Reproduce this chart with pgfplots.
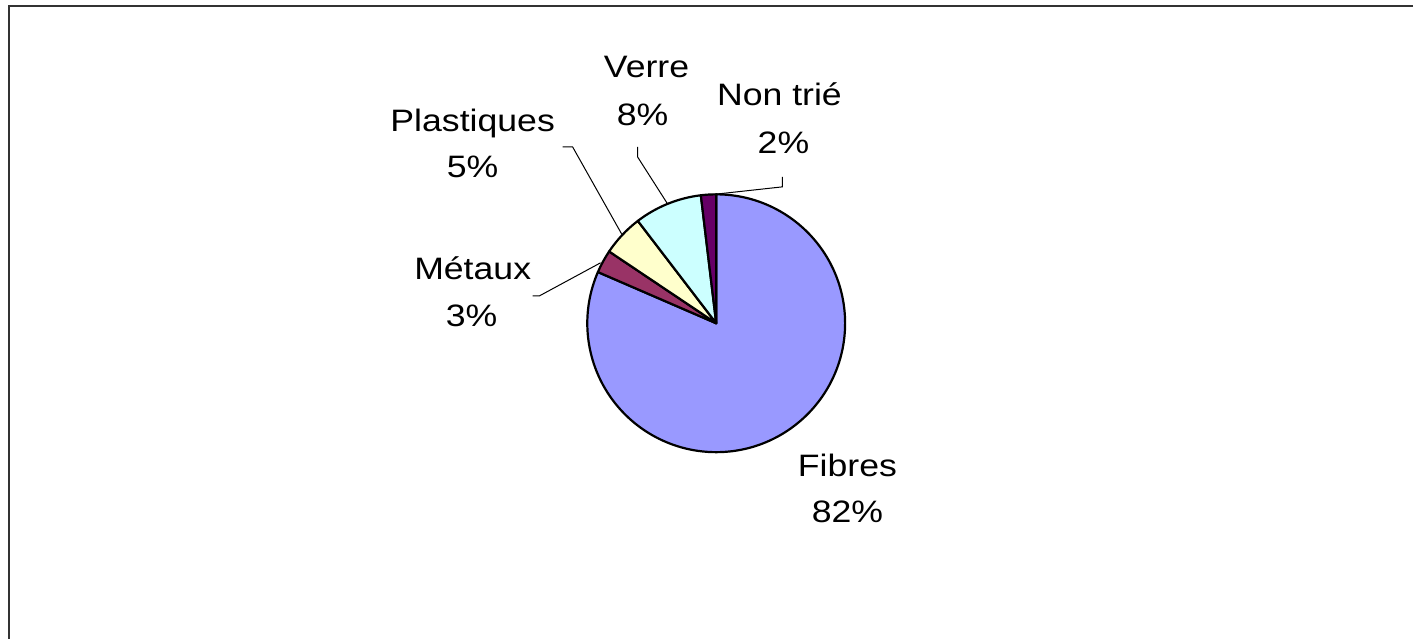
\documentclass[border=0pt]{standalone}
\usepackage{fontspec}
\setmainfont{Liberation Sans}[FakeStretch=1.15]
\usepackage{pgfplots}
\usepackage{pgfplotstable}
\pgfplotsset{compat=1.18}
\pgfplotstableread{
cat value
Fibres 81.5
Metaux 2.9
Plastiques 5.2
Verre 8.5
Nontrie 1.9
}\piedata
\definecolor{cFib}{HTML}{9999FF}
\definecolor{cMet}{HTML}{993366}
\definecolor{cPla}{HTML}{FFFFCC}
\definecolor{cVer}{HTML}{CCFFFF}
\definecolor{cNon}{HTML}{660066}
\definecolor{frame}{HTML}{333333}
\xdef\acc{90}
\newcommand\getang[2]{%
  \pgfplotstablegetelem{#1}{value}\of\piedata
  \pgfmathsetmacro\tmp{\acc-3.6*\pgfplotsretval}%
  \expandafter\xdef\csname s#2\endcsname{\acc}%
  \expandafter\xdef\csname e#2\endcsname{\tmp}%
  \xdef\acc{\tmp}}
\newcommand\lbl{\fontsize{15.5}{18}\selectfont}
\begin{document}
\begin{tikzpicture}
\getang{0}{A}\getang{1}{B}\getang{2}{C}\getang{3}{D}\getang{4}{E}
\begin{axis}[x=0.5pt,y=0.5pt,xmin=0,xmax=1414,ymin=0,ymax=639,
  hide axis, clip=false]
\path (axis cs:0,0) rectangle (axis cs:1414,639);
\draw[frame, line width=1pt] (axis cs:1414,633) -- (axis cs:9,633) -- (axis cs:9,0);
% slices
\filldraw[fill=cFib, draw=black, line width=1.1pt, line join=round] (axis cs:716.7,315.5) -- ++(\sA:64.5pt) arc[start angle=\sA, end angle=\eA, radius=64.5pt] -- cycle;
\filldraw[fill=cMet, draw=black, line width=1.1pt, line join=round] (axis cs:716.7,315.5) -- ++(\sB:64.5pt) arc[start angle=\sB, end angle=\eB, radius=64.5pt] -- cycle;
\filldraw[fill=cPla, draw=black, line width=1.1pt, line join=round] (axis cs:716.7,315.5) -- ++(\sC:64.5pt) arc[start angle=\sC, end angle=\eC, radius=64.5pt] -- cycle;
\filldraw[fill=cVer, draw=black, line width=1.1pt, line join=round] (axis cs:716.7,315.5) -- ++(\sD:64.5pt) arc[start angle=\sD, end angle=\eD, radius=64.5pt] -- cycle;
\filldraw[fill=cNon, draw=black, line width=1.1pt, line join=round] (axis cs:716.7,315.5) -- ++(\sE:64.5pt) arc[start angle=\sE, end angle=\eE, radius=64.5pt] -- cycle;
% leader lines
\draw[line width=0.5pt] (axis cs:533,343) -- (axis cs:540,343) -- (axis cs:601,376);
\draw[line width=0.5pt] (axis cs:563,492) -- (axis cs:573,492) -- (axis cs:622,405);
\draw[line width=0.5pt] (axis cs:638,492) -- (axis cs:638,482) -- (axis cs:668,435);
\draw[line width=0.5pt] (axis cs:783,462) -- (axis cs:783,452) -- (axis cs:710,444);
% labels
\node[anchor=base, inner sep=0pt, font=\lbl] at (axis cs:848,162) {Fibres};
\node[anchor=base, inner sep=0pt, font=\lbl] at (axis cs:848,116) {82\%};
\node[anchor=base, inner sep=0pt, font=\lbl] at (axis cs:473,359) {Métaux};
\node[anchor=base, inner sep=0pt, font=\lbl] at (axis cs:472,312) {3\%};
\node[anchor=base, inner sep=0pt, font=\lbl] at (axis cs:473,507) {Plastiques};
\node[anchor=base, inner sep=0pt, font=\lbl] at (axis cs:473,461) {5\%};
\node[anchor=base, inner sep=0pt, font=\lbl] at (axis cs:647,561) {Verre};
\node[anchor=base, inner sep=0pt, font=\lbl] at (axis cs:643,513) {8\%};
\node[anchor=base, inner sep=0pt, font=\lbl] at (axis cs:780,533) {Non trié};
\node[anchor=base, inner sep=0pt, font=\lbl] at (axis cs:784,485) {2\%};
\end{axis}
\end{tikzpicture}
\end{document}
